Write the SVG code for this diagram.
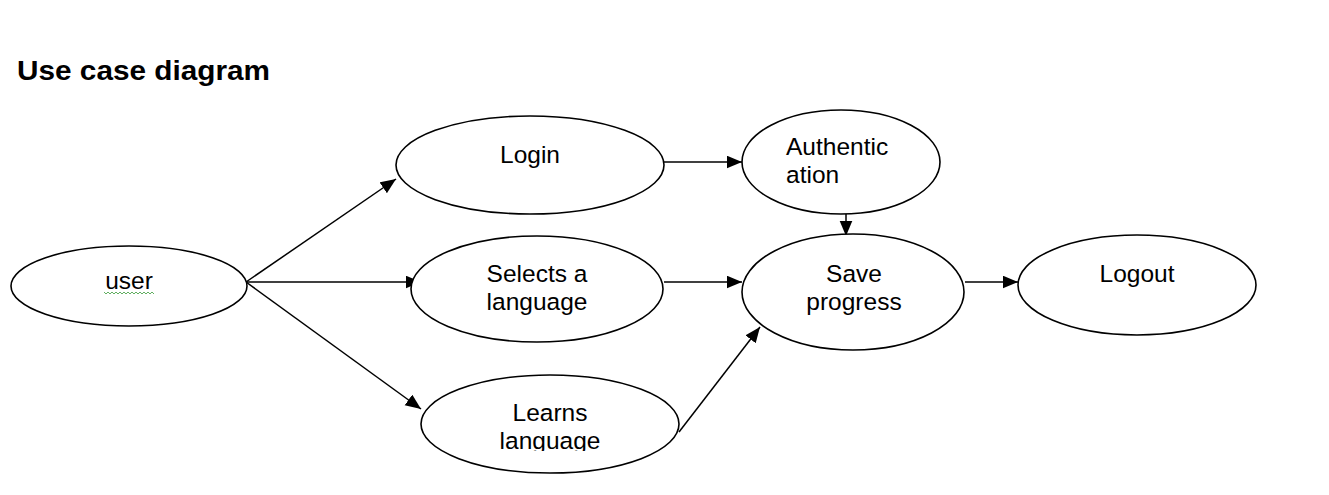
<svg xmlns="http://www.w3.org/2000/svg" width="1329" height="495" viewBox="0 0 1329 495">
<style>
.node{fill:#fff;stroke:#000;stroke-width:1.6}
.lbl{font-family:"Liberation Sans",Arial,sans-serif;font-size:24.5px;fill:#000}
.c{text-anchor:middle}
.edge{stroke:#000;stroke-width:1.5;fill:none;marker-end:url(#arr)}
</style>
<defs>
<marker id="arr" markerUnits="userSpaceOnUse" markerWidth="17" markerHeight="14" refX="15.5" refY="6.5" orient="auto">
<path d="M0,0 L15.5,6.5 L0,13 z" fill="#000"/>
</marker>
<clipPath id="clipLearn"><rect x="400" y="370" width="300" height="81"/></clipPath>
</defs>
<rect width="1329" height="495" fill="#fff"/>
<text x="17" y="80" font-family="'Liberation Sans',Arial,sans-serif" font-weight="bold" font-size="27" textLength="253" lengthAdjust="spacingAndGlyphs">Use case diagram</text>

<g id="connectors">
<line class="edge" x1="246" y1="282" x2="396" y2="179"/>
<line class="edge" x1="246" y1="282" x2="421" y2="282"/>
<line class="edge" x1="246" y1="282" x2="421" y2="409"/>
<line class="edge" x1="664" y1="162" x2="742" y2="162"/>
<line class="edge" x1="846" y1="214" x2="846" y2="236"/>
<line class="edge" x1="664" y1="282" x2="742" y2="282"/>
<line class="edge" x1="679" y1="432" x2="760" y2="327"/>
<line class="edge" x1="965" y1="282" x2="1018" y2="282"/>
</g>

<g id="user">
<ellipse class="node" cx="129" cy="286" rx="118" ry="40"/>
<text class="lbl c" x="129" y="289">user</text>
<polyline points="104,292 106,294 108,292 110,294 112,292 114,294 116,292 118,294 120,292 122,294 124,292 126,294 128,292 130,294 132,292 134,294 136,292 138,294 140,292 142,294 144,292 146,294 148,292 150,294 152,292 154,294" fill="none" stroke="#3a9a3a" stroke-width="0.8"/>
</g>

<g id="login">
<ellipse class="node" cx="530" cy="165" rx="134" ry="49"/>
<text class="lbl c" x="530" y="163">Login</text>
</g>

<g id="authentication">
<ellipse class="node" cx="841" cy="162" rx="99" ry="52"/>
<text class="lbl" x="786" y="155">Authentic</text>
<text class="lbl" x="786" y="183">ation</text>
</g>

<g id="selects">
<ellipse class="node" cx="537" cy="289" rx="126" ry="53"/>
<text class="lbl c" x="537" y="282">Selects a</text>
<text class="lbl c" x="537" y="310">language</text>
</g>

<g id="save">
<ellipse class="node" cx="853" cy="292" rx="111" ry="58"/>
<text class="lbl c" x="854" y="282">Save</text>
<text class="lbl c" x="854" y="310">progress</text>
</g>

<g id="logout">
<ellipse class="node" cx="1137" cy="285" rx="119" ry="50"/>
<text class="lbl c" x="1137" y="282">Logout</text>
</g>

<g id="learns">
<ellipse class="node" cx="550" cy="424" rx="129" ry="49"/>
<g clip-path="url(#clipLearn)">
<text class="lbl c" x="550" y="421">Learns</text>
<text class="lbl c" x="550" y="449">language</text>
</g>
</g>
</svg>
